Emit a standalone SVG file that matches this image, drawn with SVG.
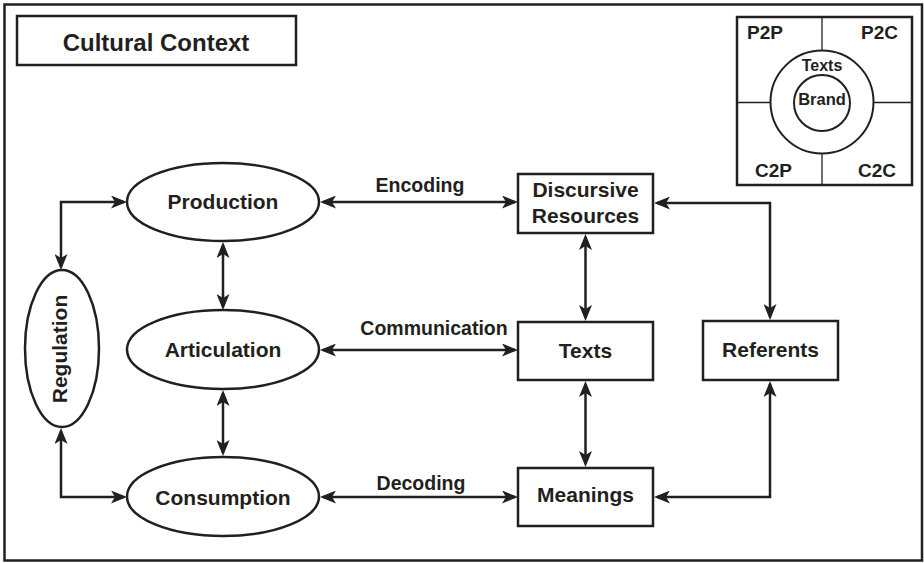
<svg xmlns="http://www.w3.org/2000/svg" width="924" height="563" viewBox="0 0 924 563">
<style>
.ln{fill:none;stroke:#231f20;stroke-width:2.5}
.nd{fill:#fff;stroke:#231f20;stroke-width:2.5}
.thin{fill:none;stroke:#231f20;stroke-width:1.3}
.cn{fill:none;stroke:#231f20;stroke-width:2.5;marker-start:url(#ah);marker-end:url(#ah)}
text{font-family:"Liberation Sans",Arial,sans-serif;font-weight:bold;fill:#231f20;text-anchor:middle}
.t21{font-size:21px}
.t19{font-size:19.5px}
.t18{font-size:19px}
.t16{font-size:16px}
</style>
<defs>
<marker id="ah" viewBox="0 0 16 13" refX="13" refY="6.5" markerWidth="16" markerHeight="13" markerUnits="userSpaceOnUse" orient="auto-start-reverse">
<path d="M0,0 L16,6.5 L0,13 L4,6.5 Z" fill="#231f20"/>
</marker>
</defs>
<rect width="924" height="563" fill="#fff"/>
<g id="frame">
<rect class="ln" x="4.5" y="4.5" width="917.5" height="556"/>
</g>
<g id="cultural-context">
<rect class="nd" x="17" y="16" width="279" height="49"/>
<text x="156" y="51" style="font-size:24px">Cultural Context</text>
</g>
<g id="inset">
<rect class="nd" x="737" y="17" width="175" height="168"/>
<line class="thin" x1="822" y1="17" x2="822" y2="185"/>
<line class="thin" x1="737" y1="102.5" x2="912" y2="102.5"/>
<circle cx="822" cy="102" r="51.5" fill="#fff" stroke="#231f20" stroke-width="2"/>
<circle cx="822" cy="103" r="28" fill="#fff" stroke="#231f20" stroke-width="2"/>
<text class="t18" x="747" y="39" style="text-anchor:start">P2P</text>
<text class="t18" x="898" y="39" style="text-anchor:end">P2C</text>
<text class="t18" x="755" y="177" style="text-anchor:start">C2P</text>
<text class="t18" x="896" y="177" style="text-anchor:end">C2C</text>
<text class="t16" x="822" y="71">Texts</text>
<text x="822" y="105" style="font-size:16.5px">Brand</text>
</g>
<g id="connectors">
<path class="cn" d="M124,202 H61 V267"/>
<path class="cn" d="M61,431 V497 H124"/>
<path class="cn" d="M223,245 V307"/>
<path class="cn" d="M223,393 V453"/>
<path class="cn" d="M323,202 H515"/>
<path class="cn" d="M323,350 H515"/>
<path class="cn" d="M323,497 H515"/>
<path class="cn" d="M585.5,237 V318"/>
<path class="cn" d="M585.5,384 V464"/>
<path class="cn" d="M657,203 H770 V317"/>
<path class="cn" d="M657,497 H770 V384"/>
<text class="t19" x="420" y="192">Encoding</text>
<text class="t19" x="434" y="335">Communication</text>
<text class="t19" x="421" y="490">Decoding</text>
</g>
<g id="regulation">
<ellipse class="nd" cx="62" cy="348.5" rx="37" ry="78.5"/>
<text class="t21" transform="translate(67,349) rotate(-90)">Regulation</text>
</g>
<g id="production">
<ellipse class="nd" cx="223" cy="202" rx="96" ry="39"/>
<text class="t21" x="223" y="209">Production</text>
</g>
<g id="articulation">
<ellipse class="nd" cx="223" cy="349.5" rx="96" ry="39.5"/>
<text class="t21" x="223" y="357">Articulation</text>
</g>
<g id="consumption">
<ellipse class="nd" cx="223" cy="496.5" rx="96" ry="39.5"/>
<text class="t21" x="223" y="505">Consumption</text>
</g>
<g id="discursive-resources">
<rect class="nd" x="518" y="174" width="135" height="59"/>
<text class="t21" x="585.5" y="197">Discursive</text>
<text class="t21" x="585.5" y="223">Resources</text>
</g>
<g id="texts">
<rect class="nd" x="518" y="322" width="135" height="58"/>
<text class="t21" x="585.5" y="358">Texts</text>
</g>
<g id="meanings">
<rect class="nd" x="518" y="468" width="135" height="58"/>
<text class="t21" x="585.5" y="502">Meanings</text>
</g>
<g id="referents">
<rect class="nd" x="703" y="321" width="135" height="59"/>
<text class="t21" x="770.5" y="357">Referents</text>
</g>
</svg>
